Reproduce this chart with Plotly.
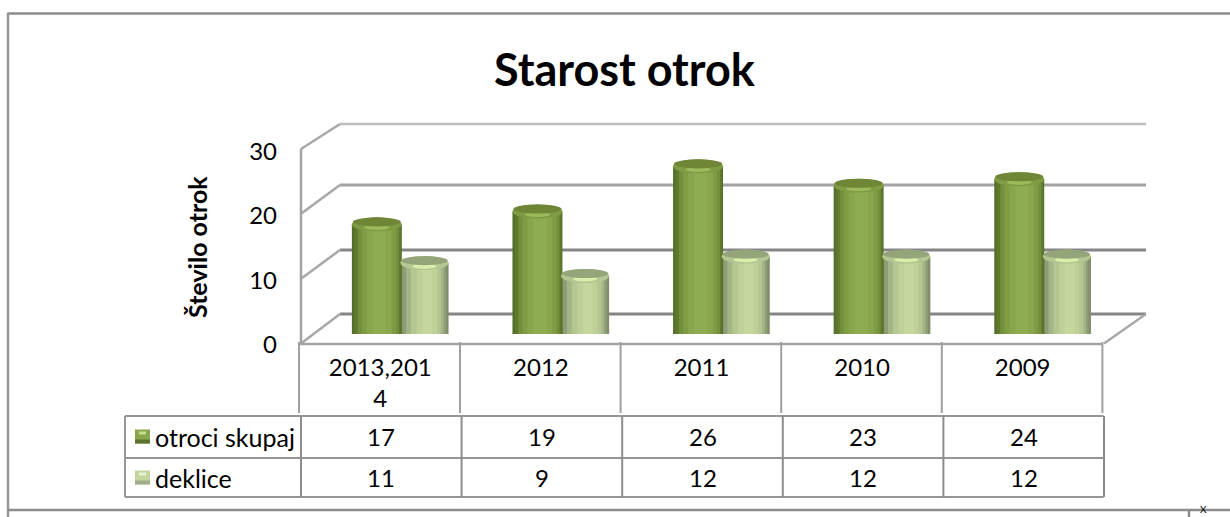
import plotly.graph_objects as go

W, H = 1230, 517

# ---- data ----
title_text = "Starost otrok"
y_title = "Število otrok"
categories = ["2013,2014", "2012", "2011", "2010", "2009"]
category_labels = ["2013,201<br>4", "2012", "2011", "2010", "2009"]
series_total_name = "otroci skupaj"
series_total = [17, 19, 26, 23, 24]
series_girls_name = "deklice"
series_girls = [11, 9, 12, 12, 12]
y_ticks = [0, 10, 20, 30]

# ---- styling ----
FONT = "Lato"
GREEN_LAYERS = [(0.00, 1.00, "#556f2a"), (0.05, 0.98, "#5f7a2f"), (0.12, 0.94, "#72903b"),
                (0.20, 0.88, "#7f9c44"), (0.30, 0.80, "#89a64d"), (0.42, 0.68, "#8ead52")]
LIGHT_LAYERS = [(0.00, 1.00, "#7f8d68"), (0.04, 0.95, "#8f9d77"), (0.12, 0.90, "#a3b487"),
                (0.22, 0.84, "#b4c691"), (0.34, 0.76, "#bfd199"), (0.46, 0.66, "#c5d79f")]
GREEN_TOP, GREEN_RIM, GREEN_BASE = "#6f8636", "#9cba5c", "#a9c278"
LIGHT_TOP, LIGHT_RIM, LIGHT_BASE = "#94a57a", "#d9eeaa", "#dbe6c4"
GRID_COLORS = {0: "#858585", 10: "#858585", 20: "#a3a3a3", 30: "#bdbdbd"}
GRID_WIDTHS = {0: 3, 10: 3, 20: 3, 30: 2.5}


def px(x):
    return x / W


def py(y):
    return 1 - y / H


# geometry in pixels
PLOT_L, PLOT_R = 300, 1103
CAT_W = (PLOT_R - PLOT_L) / 5
BAR_BASE, BAR_SCALE = 334, 6.45
FRONT_0, FRONT_30 = 343.5, 149
LABEL_0, LABEL_30 = 344.5, 151.5
BACK_L, BACK_R = 340, 1146
BACK_Y = {0: 314, 10: 250, 20: 185, 30: 124}
GREEN_X = (0.323 - 0.5, 0.634 - 0.5)
LIGHT_X = (0.625 - 0.5, 0.925 - 0.5)

fig = go.Figure()


def add_cylinder(values, name, span, layers, top, rim, base):
    left, width = span[0], span[1] - span[0]
    for a, b, color in layers:
        fig.add_trace(go.Bar(x=categories, y=values, name=name, xaxis="x", yaxis="y",
                             offset=left + a * width, width=(b - a) * width,
                             marker=dict(color=color, line=dict(width=0)),
                             showlegend=False, hoverinfo="skip"))
    dy = 7 / BAR_SCALE
    for i, v in enumerate(values):
        lo, hi = i + left, i + left + width
        # bottom highlight
        fig.add_shape(type="rect", xref="x", yref="y", layer="above", line_width=0, fillcolor=base,
                      x0=lo + 0.15 * width, x1=hi - 0.45 * width, y0=-0.3, y1=0.0)
        # top face
        fig.add_shape(type="circle", xref="x", yref="y", layer="above", line_width=0, fillcolor=layers[3][2],
                      x0=lo, x1=hi, y0=v - dy, y1=v + dy)
        fig.add_shape(type="circle", xref="x", yref="y", layer="above", line_width=0, fillcolor=rim,
                      x0=lo + 0.25 * width, x1=hi - 0.25 * width, y0=v - dy * 0.8, y1=v - dy * 0.1)
        fig.add_shape(type="circle", xref="x", yref="y", layer="above", line_width=0, fillcolor=top,
                      x0=lo + 0.02 * width, x1=hi - 0.02 * width, y0=v - dy * 0.3, y1=v + dy)


add_cylinder(series_girls, series_girls_name, LIGHT_X, LIGHT_LAYERS, LIGHT_TOP, LIGHT_RIM, LIGHT_BASE)
add_cylinder(series_total, series_total_name, GREEN_X, GREEN_LAYERS, GREEN_TOP, GREEN_RIM, GREEN_BASE)

# empty trace carrying the front-plane axes (tick labels and category labels)
fig.add_trace(go.Scatter(x=categories, y=[None] * 5, xaxis="x2", yaxis="y2", showlegend=False, hoverinfo="skip"))


def line(x0, y0, x1, y1, color, width=2, layer="below"):
    fig.add_shape(type="line", xref="paper", yref="paper", layer=layer,
                  x0=px(x0), y0=py(y0), x1=px(x1), y1=py(y1), line=dict(color=color, width=width))


# outer frame
line(7.5, 13.5, W, 13.5, "#8c8c8c", 2.5)
line(8, 13, 8, H, "#969696", 2.5)
line(8, 510, W, 510, "#8c8c8c", 2.5)
line(1189, 510, 1189, H, "#8c8c8c", 2.5)

# walls and gridlines
for t in y_ticks:
    front_y = FRONT_0 + (FRONT_30 - FRONT_0) * t / 30
    line(BACK_L, BACK_Y[t], BACK_R, BACK_Y[t], GRID_COLORS[t], GRID_WIDTHS[t])
    line(PLOT_L + 1, front_y, BACK_L, BACK_Y[t], "#a8a8a8", 2.5)
line(PLOT_R + 1, FRONT_0, BACK_R, BACK_Y[0], "#a8a8a8", 2.5)
line(PLOT_L + 1, FRONT_0, PLOT_L + 1, FRONT_30, "#a3a3a3", 2.5)
line(PLOT_L, FRONT_0 + 0.5, PLOT_R, FRONT_0 + 0.5, "#a3a3a3", 2.5)

# category header rows
for i in range(6):
    x = PLOT_L + i * CAT_W - 1 + 0.4 * (i > 0)
    line(x, 342, x, 413, "#a0a0a0", 2)

# data table
TABLE_L, TABLE_R = 125, 1103.5
ROWS_Y = [416, 458, 497]
for y in ROWS_Y:
    line(TABLE_L, y, TABLE_R, y, "#969696", 2)
line(TABLE_L, 416, TABLE_L, 497, "#969696", 2)
for i in range(6):
    x = PLOT_L + 1 + i * CAT_W
    line(x, 416, x, 497, "#8c8c8c", 2)

row_centres = [436.5, 477.5]
row_names = [series_total_name, series_girls_name]
row_values = [series_total, series_girls]
swatch_colors = [("#5c7430", "#8aa64c", "#c6dc8c"), ("#a0ad88", "#c4d49e", "#e8f2d0")]
annotations = []
for r, (name, values) in enumerate(zip(row_names, row_values)):
    yc = row_centres[r]
    dark, mid, light = swatch_colors[r]
    fig.add_shape(type="rect", xref="paper", yref="paper", layer="above", line_width=0, fillcolor=mid,
                  x0=px(135), x1=px(150), y0=py(yc + 7), y1=py(yc - 7))
    fig.add_shape(type="rect", xref="paper", yref="paper", layer="above", line_width=0, fillcolor=dark,
                  x0=px(135), x1=px(150), y0=py(yc + 7), y1=py(yc + 3))
    fig.add_shape(type="rect", xref="paper", yref="paper", layer="above", line_width=0, fillcolor=light,
                  x0=px(139), x1=px(146), y0=py(yc - 2), y1=py(yc - 5))
    annotations.append(dict(text=name, x=px(153), y=py(yc), xref="paper", yref="paper", xanchor="left",
                            yanchor="middle", showarrow=False, font=dict(size=25, color="#000000", family=FONT)))
    for i, v in enumerate(values):
        annotations.append(dict(text=str(v), x=px(PLOT_L + 1 + (i + 0.5) * CAT_W), y=py(yc), xref="paper", yref="paper",
                                xanchor="center", yanchor="middle", showarrow=False,
                                font=dict(size=24, color="#000000", family=FONT)))

annotations.append(dict(text=title_text, x=px(625), y=py(69), xref="paper", yref="paper", xanchor="center",
                        yanchor="middle", showarrow=False,
                        font=dict(size=45, color="#000000", family=FONT, weight="bold")))
annotations.append(dict(text=y_title, x=px(197), y=py(247), xref="paper", yref="paper", xanchor="center",
                        yanchor="middle", textangle=-90, showarrow=False,
                        font=dict(size=25, color="#000000", family=FONT, weight="bold")))
annotations.append(dict(text="X", x=px(1203), y=0, xref="paper", yref="paper", xanchor="center",
                        yanchor="bottom", showarrow=False, font=dict(size=10, color="#000000", family=FONT)))

fig.update_layout(
    width=W, height=H, autosize=False,
    margin=dict(l=0, r=0, t=0, b=0, pad=0, autoexpand=False),
    paper_bgcolor="#ffffff", plot_bgcolor="rgba(0,0,0,0)",
    barmode="overlay", showlegend=False,
    annotations=annotations,
    xaxis=dict(domain=[px(PLOT_L), px(PLOT_R)], range=[-0.5, 4.5], type="category", categoryorder="array",
               categoryarray=categories, visible=False, anchor="y"),
    yaxis=dict(domain=[py(BAR_BASE), py(BAR_BASE - 30 * BAR_SCALE)], range=[0, 30], visible=False, anchor="x"),
    xaxis2=dict(domain=[px(PLOT_L), px(PLOT_R)], range=[-0.5, 4.5], type="category", categoryorder="array",
                categoryarray=categories, anchor="y2", tickmode="array", tickvals=categories,
                ticktext=category_labels, ticklen=0, showgrid=False, showline=False, zeroline=False,
                ticklabelstandoff=6, tickfont=dict(size=24, color="#000000", family=FONT)),
    yaxis2=dict(domain=[py(LABEL_0), py(LABEL_30)], range=[0, 30], anchor="x2", tickmode="array",
                tickvals=y_ticks, ticklen=0, showgrid=False, showline=False, zeroline=False,
                ticklabelstandoff=22, tickfont=dict(size=24, color="#000000", family=FONT)),
)

fig.write_html("out.html", config={"displayModeBar": False}, post_script="document.body.style.margin='0';")
